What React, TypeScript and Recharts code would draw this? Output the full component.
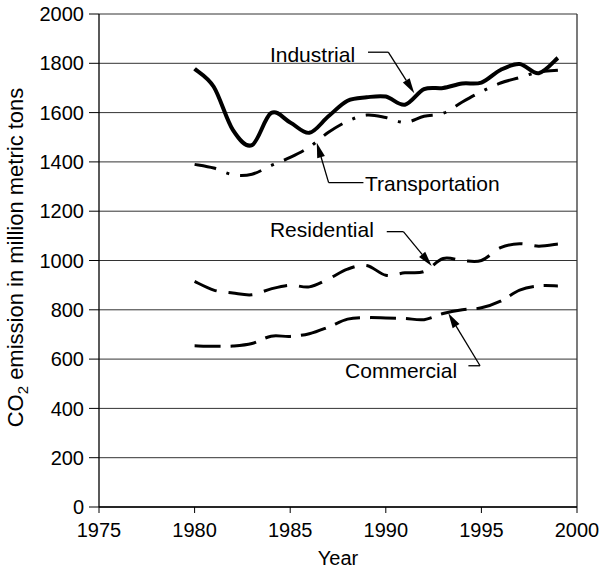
import React from "react";
import {
  LineChart,
  Line,
  XAxis,
  YAxis,
  CartesianGrid,
  ReferenceLine,
  ReferenceDot,
} from "recharts";

const years = [1980, 1981, 1982, 1983, 1984, 1985, 1986, 1987, 1988, 1989, 1990, 1991, 1992, 1993, 1994, 1995, 1996, 1997, 1998, 1999];
const industrial = [1778, 1705, 1530, 1468, 1598, 1560, 1518, 1585, 1648, 1662, 1665, 1632, 1695, 1700, 1718, 1722, 1773, 1797, 1760, 1822];
const transportation = [1390, 1375, 1348, 1350, 1385, 1418, 1460, 1520, 1565, 1590, 1580, 1560, 1585, 1597, 1643, 1685, 1720, 1742, 1765, 1772];
const residential = [915, 880, 868, 861, 885, 900, 893, 925, 965, 980, 940, 950, 955, 1008, 1000, 1000, 1052, 1068, 1058, 1067];
const commercial = [654, 652, 653, 663, 693, 692, 703, 730, 762, 768, 767, 765, 760, 785, 800, 808, 835, 880, 897, 897];

const xTicks = [1975, 1980, 1985, 1990, 1995, 2000];
const yTicks = [0, 200, 400, 600, 800, 1000, 1200, 1400, 1600, 1800, 2000];

// annotation labels: [text, year (left edge), value (vertical centre)]
const labels: [string, number, number][] = [
  ["Industrial", 1983.94, 1837],
  ["Transportation", 1988.91, 1312],
  ["Residential", 1983.94, 1127],
  ["Commercial", 1987.87, 553],
];
// leader lines: [from, corner, arrow tip] in data coordinates
const leaders: [number, number][][] = [
  [[1989.07, 1845], [1990.13, 1845], [1991.49, 1679]],
  [[1988.83, 1316], [1987.01, 1316], [1986.39, 1478]],
  [[1990.05, 1117], [1990.92, 1117], [1992.4, 978]],
  [[1994.32, 573], [1994.93, 573], [1993.27, 786]],
];

const data = years.map((y, i) => ({
  year: y,
  industrial: industrial[i],
  transportation: transportation[i],
  residential: residential[i],
  commercial: commercial[i],
}));

// Catmull-Rom style smoothing (like spreadsheet "smoothed line")
const smooth = (context: any) => {
  let pts: number[][] = [];
  return {
    areaStart() {},
    areaEnd() {},
    lineStart() {
      pts = [];
    },
    point(x: number, y: number) {
      pts.push([+x, +y]);
    },
    lineEnd() {
      if (!pts.length) return;
      context.moveTo(pts[0][0], pts[0][1]);
      for (let i = 0; i < pts.length - 1; i++) {
        const p0 = pts[i - 1] || pts[i];
        const p1 = pts[i];
        const p2 = pts[i + 1];
        const p3 = pts[i + 2] || p2;
        context.bezierCurveTo(
          p1[0] + (p2[0] - p0[0]) / 6,
          p1[1] + (p2[1] - p0[1]) / 6,
          p2[0] - (p3[0] - p1[0]) / 6,
          p2[1] - (p3[1] - p1[1]) / 6,
          p2[0],
          p2[1]
        );
      }
    },
  };
};

const plainShape = (p: any) => (
  <line x1={p.x1} y1={p.y1} x2={p.x2} y2={p.y2} stroke="#000" strokeWidth={1.3} />
);

const arrowShape = (p: any) => {
  const { x1, y1, x2, y2 } = p;
  const dx = x2 - x1;
  const dy = y2 - y1;
  const L = Math.hypot(dx, dy) || 1;
  const ux = dx / L;
  const uy = dy / L;
  const len = 15;
  const hw = 4;
  const bx = x2 - ux * len;
  const by = y2 - uy * len;
  return (
    <g>
      <line x1={x1} y1={y1} x2={bx} y2={by} stroke="#000" strokeWidth={1.3} />
      <polygon
        points={`${x2},${y2} ${bx - uy * hw},${by + ux * hw} ${bx + uy * hw},${by - ux * hw}`}
        fill="#000"
      />
    </g>
  );
};

const YTitle = (props: any) => {
  const vb = props.viewBox || { x: 0, y: 14, width: 99, height: 493 };
  const cx = 23;
  const cy = vb.y + vb.height / 2 - 3;
  return (
    <text
      x={cx}
      y={cy}
      transform={`rotate(-90 ${cx} ${cy})`}
      textAnchor="middle"
      fontSize={22}
      fill="#000"
      fontFamily="'Liberation Sans', Arial, sans-serif"
    >
      CO
      <tspan dy={5} fontSize={15}>
        2
      </tspan>
      <tspan dy={-5}> emission in million metric tons</tspan>
    </text>
  );
};

export default function App() {
  return (
    <div style={{ position: "absolute", left: 0, top: 0, background: "#fff" }}>
      <LineChart
        width={602}
        height={569}
        data={data}
        margin={{ top: 14, right: 25, bottom: 0, left: 0 }}
        style={{ fontFamily: "'Liberation Sans', Arial, sans-serif" }}
      >
        <CartesianGrid horizontal vertical={false} stroke="#333" strokeWidth={1} />
        <XAxis
          dataKey="year"
          type="number"
          domain={[1975, 2000]}
          ticks={xTicks}
          height={62}
          tickSize={6}
          tickMargin={10}
          stroke="#000"
          tick={{ fill: "#000", fontSize: 20 }}
          tickLine={{ stroke: "#000" }}
          axisLine={{ stroke: "#000", strokeWidth: 1.3 }}
          allowDataOverflow
          label={{ value: "Year", position: "insideBottom", offset: 4, fill: "#000", fontSize: 20 }}
        />
        <YAxis
          type="number"
          domain={[0, 2000]}
          ticks={yTicks}
          width={99}
          tickSize={10}
          tickMargin={5}
          stroke="#000"
          tick={{ fill: "#000", fontSize: 20 }}
          tickLine={{ stroke: "#000" }}
          axisLine={{ stroke: "#000", strokeWidth: 1.3 }}
          interval={0}
          label={{ content: YTitle }}
        />
        <ReferenceLine x={2000} stroke="#333" strokeWidth={1.3} />

        <Line
          dataKey="commercial"
          type={smooth as any}
          stroke="#000"
          strokeWidth={3}
          strokeDasharray="26 10"
          dot={false}
          activeDot={false}
          isAnimationActive={false}
        />
        <Line
          dataKey="residential"
          type={smooth as any}
          stroke="#000"
          strokeWidth={3}
          strokeDasharray="24 12"
          dot={false}
          activeDot={false}
          isAnimationActive={false}
        />
        <Line
          dataKey="transportation"
          type={smooth as any}
          stroke="#000"
          strokeWidth={3}
          strokeDasharray="22 11 3 11"
          dot={false}
          activeDot={false}
          isAnimationActive={false}
        />
        <Line
          dataKey="industrial"
          type={smooth as any}
          stroke="#000"
          strokeWidth={4}
          strokeLinejoin="round"
          dot={false}
          activeDot={false}
          isAnimationActive={false}
        />

        {leaders.map((pts, i) => (
          <ReferenceLine
            key={`a${i}`}
            segment={[
              { x: pts[0][0], y: pts[0][1] },
              { x: pts[1][0], y: pts[1][1] },
            ]}
            shape={plainShape}
          />
        ))}
        {leaders.map((pts, i) => (
          <ReferenceLine
            key={`b${i}`}
            segment={[
              { x: pts[1][0], y: pts[1][1] },
              { x: pts[2][0], y: pts[2][1] },
            ]}
            shape={arrowShape}
          />
        ))}
        {labels.map(([t, x, y]) => (
          <ReferenceDot
            key={t}
            x={x}
            y={y}
            r={0}
            fill="none"
            stroke="none"
            label={{ value: t, position: "right", offset: 0, fill: "#000", fontSize: 21 }}
          />
        ))}
      </LineChart>
    </div>
  );
}
